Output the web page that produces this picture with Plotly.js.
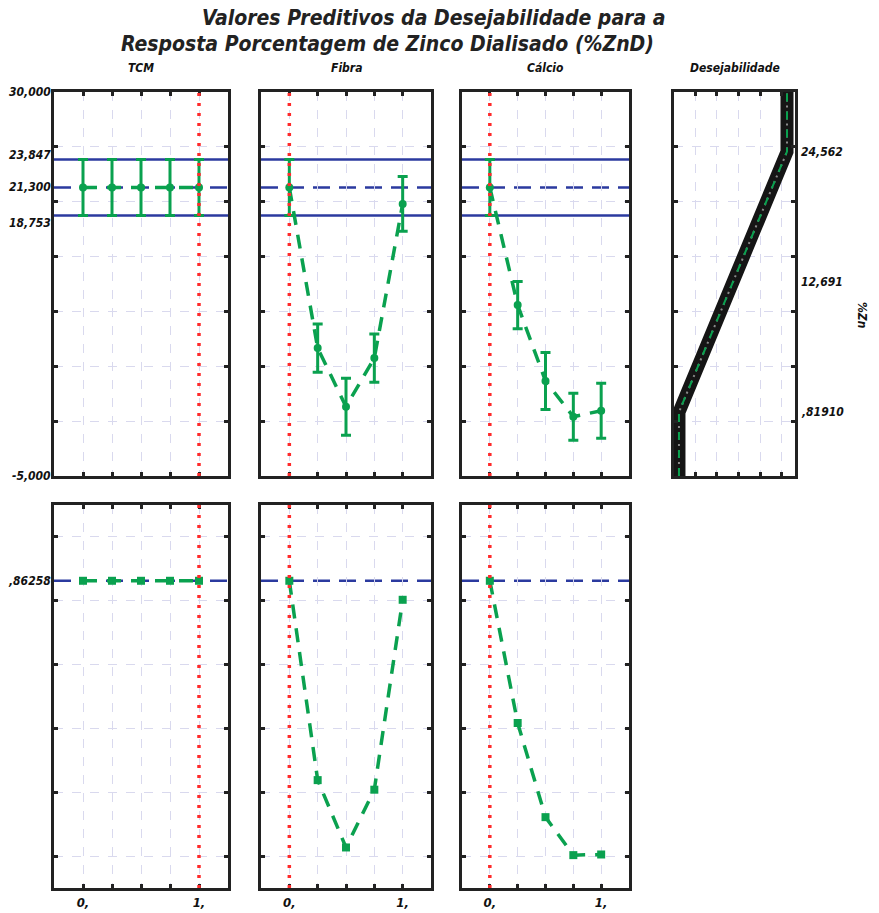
<!DOCTYPE html>
<html>
<head>
<meta charset="utf-8">
<script src="https://cdn.plot.ly/plotly-3.0.1.min.js"></script>
<style>html,body{margin:0;padding:0;background:#fff;}#chart{width:879px;height:913px;}</style>
</head>
<body>
<div id="chart"></div>
<script>
// ---------------- data ----------------
const factorNames = ['TCM', 'Fibra', 'Cálcio'];
const xLevels = [0, 0.25, 0.5, 0.75, 1];
const xTickText = ['0,', '', '', '', '1,'];
const currentSetting = [1, 0, 0];

const tcmPred = [21.3, 21.3, 21.3, 21.3, 21.3];
const tcmErr = [2.547, 2.547, 2.547, 2.547, 2.547];
const fibraPred = [21.3, 6.66, 1.32, 5.75, 19.8];
const fibraErr = [2.547, 2.2, 2.6, 2.2, 2.5];
const calcioPred = [21.3, 10.58, 3.66, 0.4, 0.95];
const calcioErr = [2.547, 2.15, 2.6, 2.15, 2.5];

const tcmDesir = [0.86258, 0.86258, 0.86258, 0.86258, 0.86258];
const fibraDesir = [0.86258, 0.238, 0.027, 0.208, 0.803];
const calcioDesir = [0.86258, 0.417, 0.122, 0.003, 0.005];

const predMean = 21.3;
const predUpper = 23.847;
const predLower = 18.753;
const overallDesir = 0.86258;

const desirCurveX = [0, 0, 1, 1];
const desirCurveY = [-5, 0.8191, 24.562, 30];

const topLabelVals = [30, 23.847, 21.3, 18.753, -5];
const topLabelText = ['30,000', '23,847', '21,300', '18,753', '-5,000'];
const rightLabelVals = [24.562, 12.691, 0.8191];
const rightLabelText = ['24,562', '12,691', ',81910'];
const bottomLabelVals = [0.86258];
const bottomLabelText = [',86258'];

// ---------------- styling ----------------
const W = 879, H = 913;
const FONT = "'Liberation Sans Narrow', 'DejaVu Sans Condensed', 'Liberation Sans', sans-serif";
const GREEN = '#0aa14f', BLUE = '#2b3a9f', RED = '#ff2a2a', FRAME = '#222222';
const px = v => v / W;
const py = v => 1 - v / H;

const colX = [[54, 228], [261, 431], [462, 629], [674, 795]];
const topY = [92, 476];
const botY = [505, 888];

function axisX(dom, opts) {
  return Object.assign({
    domain: [px(dom[0]), px(dom[1])], range: [-0.25, 1.25],
    tickvals: xLevels, ticktext: xTickText, showticklabels: false,
    showline: true, linewidth: 3, linecolor: FRAME, mirror: 'ticks',
    ticks: 'inside', ticklen: 4, tickwidth: 3, tickcolor: FRAME,
    showgrid: true, gridcolor: '#d9d9ee', griddash: 'dash', gridwidth: 1,
    zeroline: false, fixedrange: true,
    tickfont: {family: FONT, size: 13, weight: 700, style: 'italic', color: '#111'}
  }, opts || {});
}
function axisY(dom, range, dtick, opts) {
  return Object.assign({
    domain: [py(dom[1]), py(dom[0])], range: range, dtick: dtick, tick0: 0,
    showticklabels: false,
    showline: true, linewidth: 3, linecolor: FRAME, mirror: 'ticks',
    ticks: 'inside', ticklen: 4, tickwidth: 3, tickcolor: FRAME,
    showgrid: true, gridcolor: '#d9d9ee', griddash: 'dash', gridwidth: 1,
    zeroline: false, fixedrange: true
  }, opts || {});
}

const layout = {
  width: W, height: H, margin: {l: 0, r: 0, t: 0, b: 0},
  paper_bgcolor: '#fff', plot_bgcolor: '#fff', showlegend: false,
  font: {family: FONT, color: '#111'},
  shapes: [], annotations: []
};

// top panels
for (let i = 0; i < 4; i++) {
  const n = i + 1;
  const xopts = {};
  if (i === 3) { Object.assign(xopts, {range: [-0.046, 1.074], tickvals: null, tick0: -0.05, dtick: 0.2}); }
  layout['xaxis' + (n === 1 ? '' : n)] = axisX(colX[i], Object.assign({anchor: 'y' + (n === 1 ? '' : n)}, xopts));
  layout['yaxis' + (n === 1 ? '' : n)] = axisY(topY, [-5, 30], 5, {anchor: 'x' + (n === 1 ? '' : n)});
}
// bottom panels
for (let i = 0; i < 3; i++) {
  const n = i + 5;
  layout['xaxis' + n] = axisX(colX[i], {anchor: 'y' + n, showticklabels: true});
  layout['yaxis' + n] = axisY(botY, [-0.1, 1.1], 0.2, {anchor: 'x' + n});
}

const preds = [tcmPred, fibraPred, calcioPred];
const errs = [tcmErr, fibraErr, calcioErr];
const desirs = [tcmDesir, fibraDesir, calcioDesir];
const traces = [];

for (let i = 0; i < 3; i++) {
  const xa = i === 0 ? 'x' : 'x' + (i + 1);
  const ya = i === 0 ? 'y' : 'y' + (i + 1);
  const xb = 'x' + (i + 5), yb = 'y' + (i + 5);
  [[predUpper, 'solid'], [predLower, 'solid'], [predMean, '17px,9px']].forEach(([v, d]) => {
    layout.shapes.push({type: 'line', xref: xa + ' domain', x0: 0, x1: 1, yref: ya, y0: v, y1: v,
      line: {color: BLUE, width: 2.5, dash: d}, layer: 'below'});
  });
  layout.shapes.push({type: 'line', xref: xb + ' domain', x0: 0, x1: 1, yref: yb, y0: overallDesir, y1: overallDesir,
    line: {color: BLUE, width: 2.5, dash: '17px,9px'}, layer: 'below'});
  [[xa, ya], [xb, yb]].forEach(([xr, yr]) => {
    layout.shapes.push({type: 'line', xref: xr, x0: currentSetting[i], x1: currentSetting[i],
      yref: yr + ' domain', y0: 0, y1: 1, line: {color: RED, width: 3.5, dash: '3px,7px'}, layer: 'above'});
  });
  traces.push({
    type: 'scatter', mode: 'lines+markers', x: xLevels, y: preds[i], xaxis: xa, yaxis: ya,
    line: {color: GREEN, width: 3.5, dash: '14px,10px'},
    marker: {color: GREEN, size: 8, symbol: 'circle'},
    error_y: {type: 'data', array: errs[i], color: GREEN, thickness: 3, width: 5},
    hoverinfo: 'skip', cliponaxis: true
  });
  traces.push({
    type: 'scatter', mode: 'lines+markers', x: xLevels, y: desirs[i], xaxis: xb, yaxis: yb,
    line: {color: GREEN, width: 3.5, dash: '14px,10px'},
    marker: {color: GREEN, size: 8, symbol: 'square'},
    hoverinfo: 'skip'
  });
}

// desirability function panel
traces.push({type: 'scatter', mode: 'lines', x: desirCurveX, y: desirCurveY, xaxis: 'x4', yaxis: 'y4',
  line: {color: '#151515', width: 13}, hoverinfo: 'skip'});
traces.push({type: 'scatter', mode: 'lines', x: desirCurveX, y: desirCurveY, xaxis: 'x4', yaxis: 'y4',
  line: {color: '#8a8a8a', width: 2, dash: '2px,4px'}, hoverinfo: 'skip'});
traces.push({type: 'scatter', mode: 'lines', x: desirCurveX, y: desirCurveY, xaxis: 'x4', yaxis: 'y4',
  line: {color: GREEN, width: 2, dash: '8px,10px'}, hoverinfo: 'skip'});

// titles
const titleFont = {family: FONT, size: 21, weight: 700, style: 'italic', color: '#222'};
layout.annotations.push({xref: 'paper', yref: 'paper', x: px(434), y: py(18), text: 'Valores Preditivos da Desejabilidade para a',
  showarrow: false, xanchor: 'center', yanchor: 'middle', font: titleFont});
layout.annotations.push({xref: 'paper', yref: 'paper', x: px(387), y: py(44), text: 'Resposta Porcentagem de Zinco Dialisado (%ZnD)',
  showarrow: false, xanchor: 'center', yanchor: 'middle', font: titleFont});

const labFont = {family: FONT, size: 12, weight: 700, style: 'italic', color: '#111'};
const colNames = factorNames.concat(['Desejabilidade']);
colNames.forEach((name, i) => {
  layout.annotations.push({xref: 'paper', yref: 'paper', x: px((colX[i][0] + colX[i][1]) / 2), y: py(68), text: name,
    showarrow: false, xanchor: 'center', yanchor: 'middle', font: labFont});
});

const topShift = [0, 5, 0, -8, 0];
topLabelVals.forEach((v, k) => {
  layout.annotations.push({xref: 'paper', yref: 'y', x: px(53), y: v, yshift: topShift[k], text: topLabelText[k],
    showarrow: false, xanchor: 'right', yanchor: 'middle', font: labFont});
});
rightLabelVals.forEach((v, k) => {
  layout.annotations.push({xref: 'paper', yref: 'y4', x: px(799), y: v, text: rightLabelText[k],
    showarrow: false, xanchor: 'left', yanchor: 'middle', font: labFont});
});
bottomLabelVals.forEach((v, k) => {
  layout.annotations.push({xref: 'paper', yref: 'y5', x: px(53), y: v, text: bottomLabelText[k],
    showarrow: false, xanchor: 'right', yanchor: 'middle', font: labFont});
});
layout.annotations.push({xref: 'paper', yref: 'paper', x: px(862), y: py(315), text: '%Zn',
  textangle: 90, showarrow: false, xanchor: 'center', yanchor: 'middle', font: labFont});

Plotly.newPlot('chart', traces, layout, {displayModeBar: false, staticPlot: true});
</script>
</body>
</html>
